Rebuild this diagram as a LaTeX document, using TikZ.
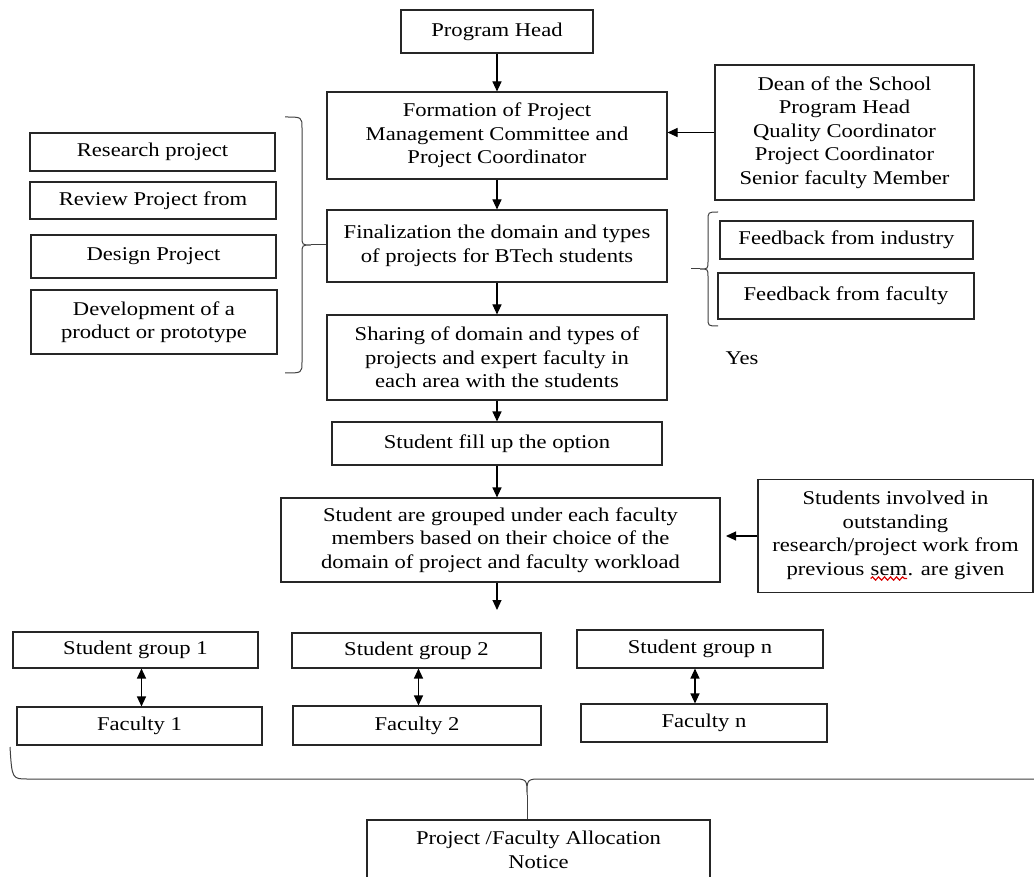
\documentclass[tikz,border=0pt]{standalone}
\usepackage{fontspec}
\setmainfont{Liberation Serif}[FakeStretch=1.16]
\usetikzlibrary{arrows.meta,decorations.pathmorphing}
\newcommand\redwavy[1]{\tikz[baseline=(w.base),x=1pt,y=1pt]{\node[inner sep=0pt,outer sep=0pt,minimum width=0pt,minimum height=0pt,draw=none,anchor=base](w){#1};\draw[red!85!black,line width=1.2pt,decorate,decoration={snake,amplitude=1.6pt,segment length=6pt}] ([yshift=-3pt]w.south west) -- ([yshift=-3pt]w.south east);}}
\begin{document}
\begin{tikzpicture}[x=1pt,y=-1pt,
  txt/.style={font=\fontsize{19.5}{23.5}\selectfont},
  box/.style={txt,draw=black!85,line width=1.1pt,inner sep=0pt,align=center},
  arr/.style={-{Triangle[length=10pt,width=9pt]},line width=1.1pt},
  darr/.style={{Triangle[length=10pt,width=9pt]}-{Triangle[length=10pt,width=9pt]},line width=1.2pt},
  brace/.style={line width=1pt,draw=black!75}]
\useasboundingbox[fill=white] (0,0) rectangle (1034,877);

\node[box,minimum width=192,minimum height=43] (ph) at (497,31.5) {Program Head};
\node[box,minimum width=340,minimum height=87] (form) at (497,135.5) {Formation of Project\\Management Committee and\\Project Coordinator};
\node[box,minimum width=259,minimum height=135] (dean) at (844.5,132.5) {Dean of the School\\Program Head\\Quality Coordinator\\Project Coordinator\\Senior faculty Member};
\node[box,minimum width=245,minimum height=38] (res) at (152.5,152) {Research project};
\node[box,minimum width=246,minimum height=37] (rev) at (153,200.5) {Review Project from};
\node[box,minimum width=245,minimum height=43] (des) at (153.5,256.5) {Design Project};
\node[box,minimum width=246,minimum height=64] (dev) at (154,322) {Development of a\\product or prototype};
\node[box,minimum width=340,minimum height=72] (fin) at (497,246) {Finalization the domain and types\\of projects for BTech students};
\node[box,minimum width=253,minimum height=38] (fbi) at (846.5,240) {Feedback from industry};
\node[box,minimum width=256,minimum height=46] (fbf) at (846,296) {Feedback from faculty};
\node[box,minimum width=340,minimum height=85] (share) at (497,357.5) {Sharing of domain and types of\\projects and expert faculty in\\each area with the students};
\node[box,minimum width=330,minimum height=43] (fill) at (497,443.5) {Student fill up the option};
\node[box,minimum width=439,minimum height=84] (grp) at (500.5,540) {Student are grouped under each faculty\\members based on their choice of the\\domain of project and faculty workload};
\node[box,minimum width=275,minimum height=113] (inv) at (895.5,536) {Students involved in\\outstanding\\research/project work from\\previous \redwavy{sem}. are given};
\node[box,minimum width=245,minimum height=36] (sg1) at (135.5,650) {Student group 1};
\node[box,minimum width=245,minimum height=38] (f1) at (139.5,726) {Faculty 1};
\node[box,minimum width=249,minimum height=35] (sg2) at (416.5,650.5) {Student group 2};
\node[box,minimum width=248,minimum height=39] (f2) at (417,725.5) {Faculty 2};
\node[box,minimum width=246,minimum height=38] (sgn) at (700,649) {Student group n};
\node[box,minimum width=246,minimum height=38] (fn) at (704,723) {Faculty n};
\node[box,minimum width=343,minimum height=60] (notice) at (538.5,850) {Project /Faculty Allocation\\Notice};
\node[txt,inner sep=0pt] (yes) at (742,358) {Yes};

% arrows
\draw[arr] (ph.south) -- (form.north);
\draw[arr] (form.south) -- (fin.north);
\draw[arr] (fin.south) -- (share.north);
\draw[arr] (share.south) -- (fill.north);
\draw[arr] (fill.south) -- (fill.south |- grp.north);
\coordinate (gout) at (497,610);
\draw[arr] (gout |- grp.south) -- (gout);
\draw[arr] (dean.west) -- (dean.west -| form.east);
\coordinate (invtip) at (726,536);
\draw[arr] (inv.west) -- (invtip);
\draw[darr] ([xshift=6]sg1.south) -- ([xshift=6]sg1.south |- f1.north);
\draw[darr] ([xshift=2]sg2.south) -- ([xshift=2]sg2.south |- f2.north);
\draw[darr] ([xshift=-5]sgn.south) -- ([xshift=-5]sgn.south |- fn.north);

% left brace
\draw[brace] (285,117) .. controls (302,117) .. (302,128) -- (302,236) .. controls (302,245) .. (311,245) .. controls (302,245) .. (302,254) -- (302,362) .. controls (302,373) .. (285,373);
\coordinate (lbt) at (311,245);
\draw[brace] (lbt) -- (lbt -| fin.west);

% right brace
\draw[brace] (718,212) .. controls (708,212) .. (708,221) -- (708,261) .. controls (708,269) .. (700,269) .. controls (708,269) .. (708,277) -- (708,318) .. controls (708,326) .. (718,326);
\coordinate (rbt) at (700,269);
\coordinate (rbend) at (691,269);
\draw[brace] (rbt) -- (rbend);

% bottom brace
\draw[brace] (10,747) .. controls (12,779) .. (28,779) -- (512,779) .. controls (527,779) .. (527,795) .. controls (527,779) .. (542,779) -- (1040,779);
\coordinate (bbt) at (527,795);
\draw[brace] (bbt) -- (bbt |- notice.north);
\end{tikzpicture}
\end{document}
